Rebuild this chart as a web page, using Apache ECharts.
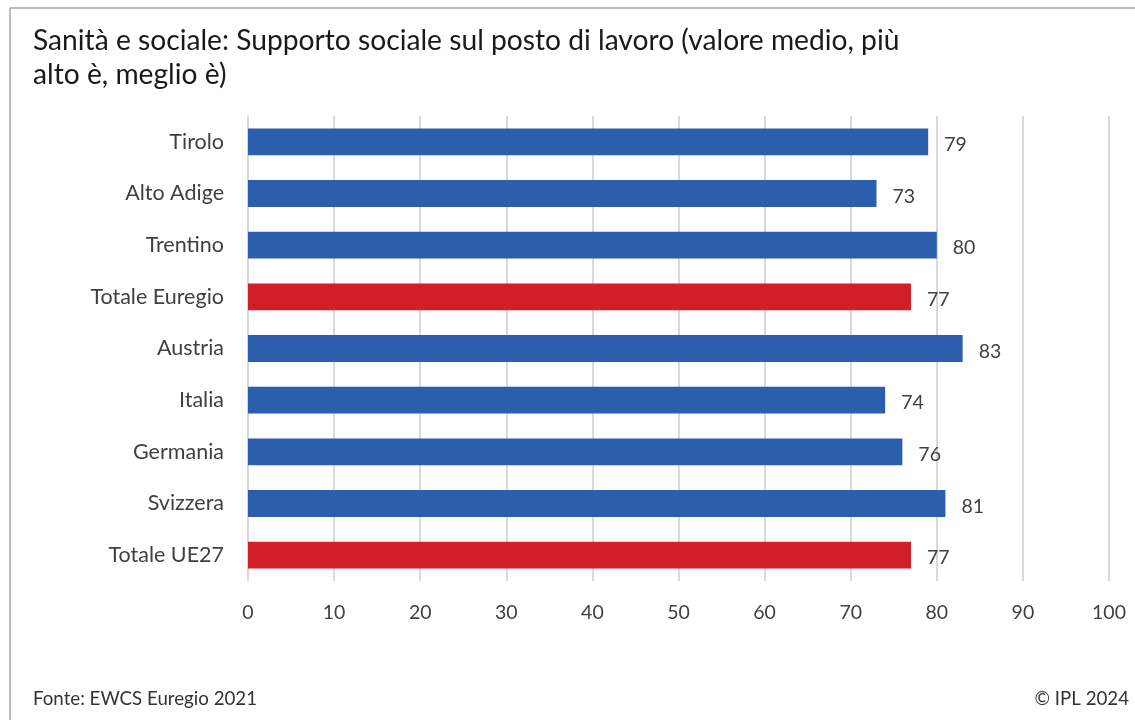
<!DOCTYPE html>
<html>
<head>
<meta charset="utf-8">
<script src="https://cdn.jsdelivr.net/npm/echarts@6/dist/echarts.min.js"></script>
<style>
  html, body { margin: 0; padding: 0; background: #fff; }
  #chart { width: 1135px; height: 720px; }
</style>
</head>
<body>
<div id="chart"></div>
<script>
// Regions and countries, top to bottom
const categories = ['Tirolo', 'Alto Adige', 'Trentino', 'Totale Euregio', 'Austria', 'Italia', 'Germania', 'Svizzera', 'Totale UE27'];
// Average workplace social support score
const values = [79, 73, 80, 77, 83, 74, 76, 81, 77];
// Aggregate rows are highlighted in red
const totals = ['Totale Euregio', 'Totale UE27'];
const xTicks = [0, 10, 20, 30, 40, 50, 60, 70, 80, 90, 100];

const BLUE = '#2b5fad';
const RED = '#d01f29';
const FONT = 'Lato, "Source Sans Pro", "Noto Sans", sans-serif';

const chart = echarts.init(document.getElementById('chart'));

chart.setOption({
  animation: false,
  backgroundColor: '#fff',
  textStyle: { fontFamily: FONT },
  title: {
    text: 'Sanità e sociale: Supporto sociale sul posto di lavoro (valore medio, più\nalto è, meglio è)',
    left: 28,
    top: 19,
    textStyle: { fontFamily: FONT, fontSize: 28.2, fontWeight: 'normal', color: '#1a1a1a', lineHeight: 34 }
  },
  graphic: [
    { type: 'line', shape: { x1: 10, y1: 8, x2: 1135, y2: 8 }, style: { stroke: '#a6a6a6', lineWidth: 1.5 } },
    { type: 'line', shape: { x1: 10, y1: 8, x2: 10, y2: 720 }, style: { stroke: '#a6a6a6', lineWidth: 1.5 } },
    { type: 'text', left: 33, top: 689, style: { text: 'Fonte: EWCS Euregio 2021', font: '18.7px ' + FONT, fill: '#333' } },
    { type: 'text', right: 6, top: 689, style: { text: '© IPL 2024', font: '18.7px ' + FONT, fill: '#333' } }
  ],
  grid: { left: 248, right: 26, top: 116, height: 465, containLabel: false },
  xAxis: {
    type: 'value',
    min: 0,
    max: 100,
    interval: 10,
    axisLine: { show: false },
    axisTick: { show: false },
    axisLabel: { fontSize: 19.5, color: '#404040', margin: 22, fontFamily: FONT,
      formatter: v => xTicks.includes(v) ? String(v) : '' },
    splitLine: { show: true, lineStyle: { color: '#d9d9d9', width: 2 } }
  },
  yAxis: {
    type: 'category',
    data: categories,
    inverse: true,
    axisLine: { show: false },
    axisTick: { show: false },
    axisLabel: { fontSize: 21.5, color: '#404040', margin: 24, fontFamily: FONT }
  },
  series: [{
    type: 'bar',
    barWidth: '52%',
    data: values.map((v, i) => ({
      value: v,
      itemStyle: { color: totals.includes(categories[i]) ? RED : BLUE }
    })),
    label: {
      show: true,
      position: 'right',
      distance: 16,
      fontSize: 19.5,
      color: '#404040',
      fontFamily: FONT,
      offset: [0, 3]
    }
  }]
});
</script>
</body>
</html>
